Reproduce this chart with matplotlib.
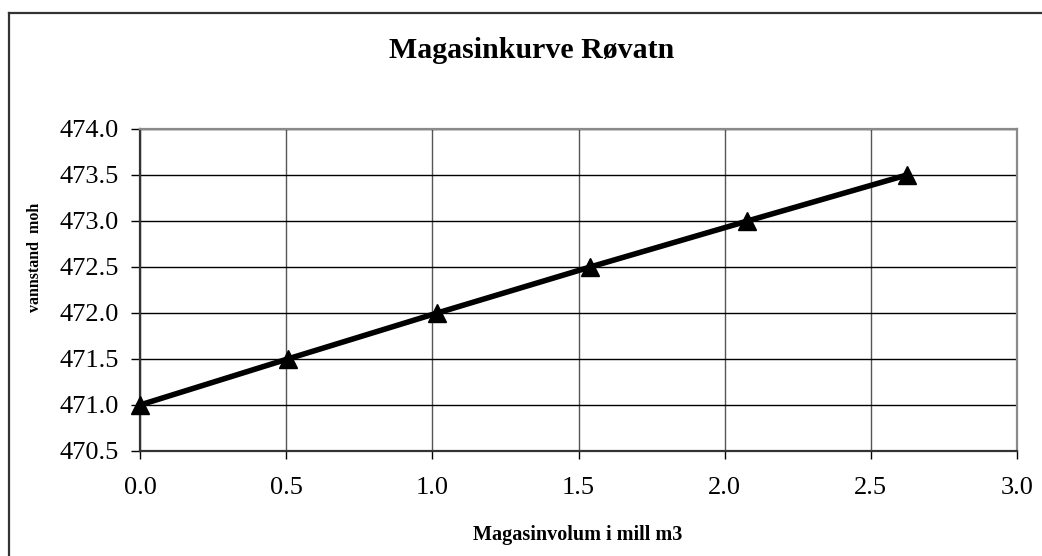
import matplotlib.pyplot as plt
from matplotlib.lines import Line2D

# reservoir curve Røvatn: volume (mill m3) vs water level (moh)
volum = [0.0, 0.505, 1.017, 1.54, 2.078, 2.623]
vannstand = [471.0, 471.5, 472.0, 472.5, 473.0, 473.5]

x_ticks = [0.0, 0.5, 1.0, 1.5, 2.0, 2.5, 3.0]
y_ticks = [470.5, 471.0, 471.5, 472.0, 472.5, 473.0, 473.5, 474.0]

plt.rcParams['font.family'] = ['Liberation Serif', 'DejaVu Serif']

W, H = 1042, 556
fig = plt.figure(figsize=(W / 100, H / 100), dpi=100)
ax = fig.add_axes([140 / W, 1 - 451 / H, (1017 - 140) / W, (451 - 129) / H])

ax.plot(volum, vannstand, color='black', lw=4.0, marker='^', ms=13,
        mfc='black', mec='black', zorder=5, clip_on=False)

ax.set_xlim(0, 3.0)
ax.set_ylim(470.5, 474.0)
ax.set_xticks(x_ticks)
ax.set_yticks(y_ticks)
ax.set_xticklabels([f"{v:.1f}" for v in x_ticks])
ax.set_yticklabels([f"{v:.1f}" for v in y_ticks])

ax.yaxis.grid(True, color='black', lw=1.0)
ax.xaxis.grid(True, color='#555555', lw=1.0)
ax.set_axisbelow(True)

for side in ['top', 'right']:
    ax.spines[side].set_color('#8a8a8a')
    ax.spines[side].set_linewidth(1.6)
ax.spines['bottom'].set_color('#333333')
ax.spines['bottom'].set_linewidth(1.6)
ax.spines['left'].set_color('#333333')
ax.spines['left'].set_linewidth(1.6)

ax.tick_params(axis='y', direction='out', length=6.5, width=1, labelsize=19, pad=9)
ax.tick_params(axis='x', direction='out', length=6, width=1, labelsize=19, pad=13)

fig.text(532 / W, 1 - 50 / H, 'Magasinkurve Røvatn', ha='center', va='center',
         fontsize=21.5, fontweight='bold')
fig.text(578 / W, 1 - 535 / H, 'Magasinvolum i mill m3', ha='center', va='center',
         fontsize=14.5, fontweight='bold')
fig.text(35 / W, 1 - 257 / H, 'vannstand  moh', ha='center', va='center',
         rotation=90, fontsize=11.5, fontweight='bold')

# outer chart frame (cut by image edge on right and bottom)
fig.add_artist(Line2D([9 / W, 9 / W], [0, 1 - 13 / H], transform=fig.transFigure,
                      color='#333333', lw=1.6))
fig.add_artist(Line2D([9 / W, 1], [1 - 13 / H, 1 - 13 / H], transform=fig.transFigure,
                      color='#333333', lw=1.6))

fig.savefig('out.png', dpi=100)
